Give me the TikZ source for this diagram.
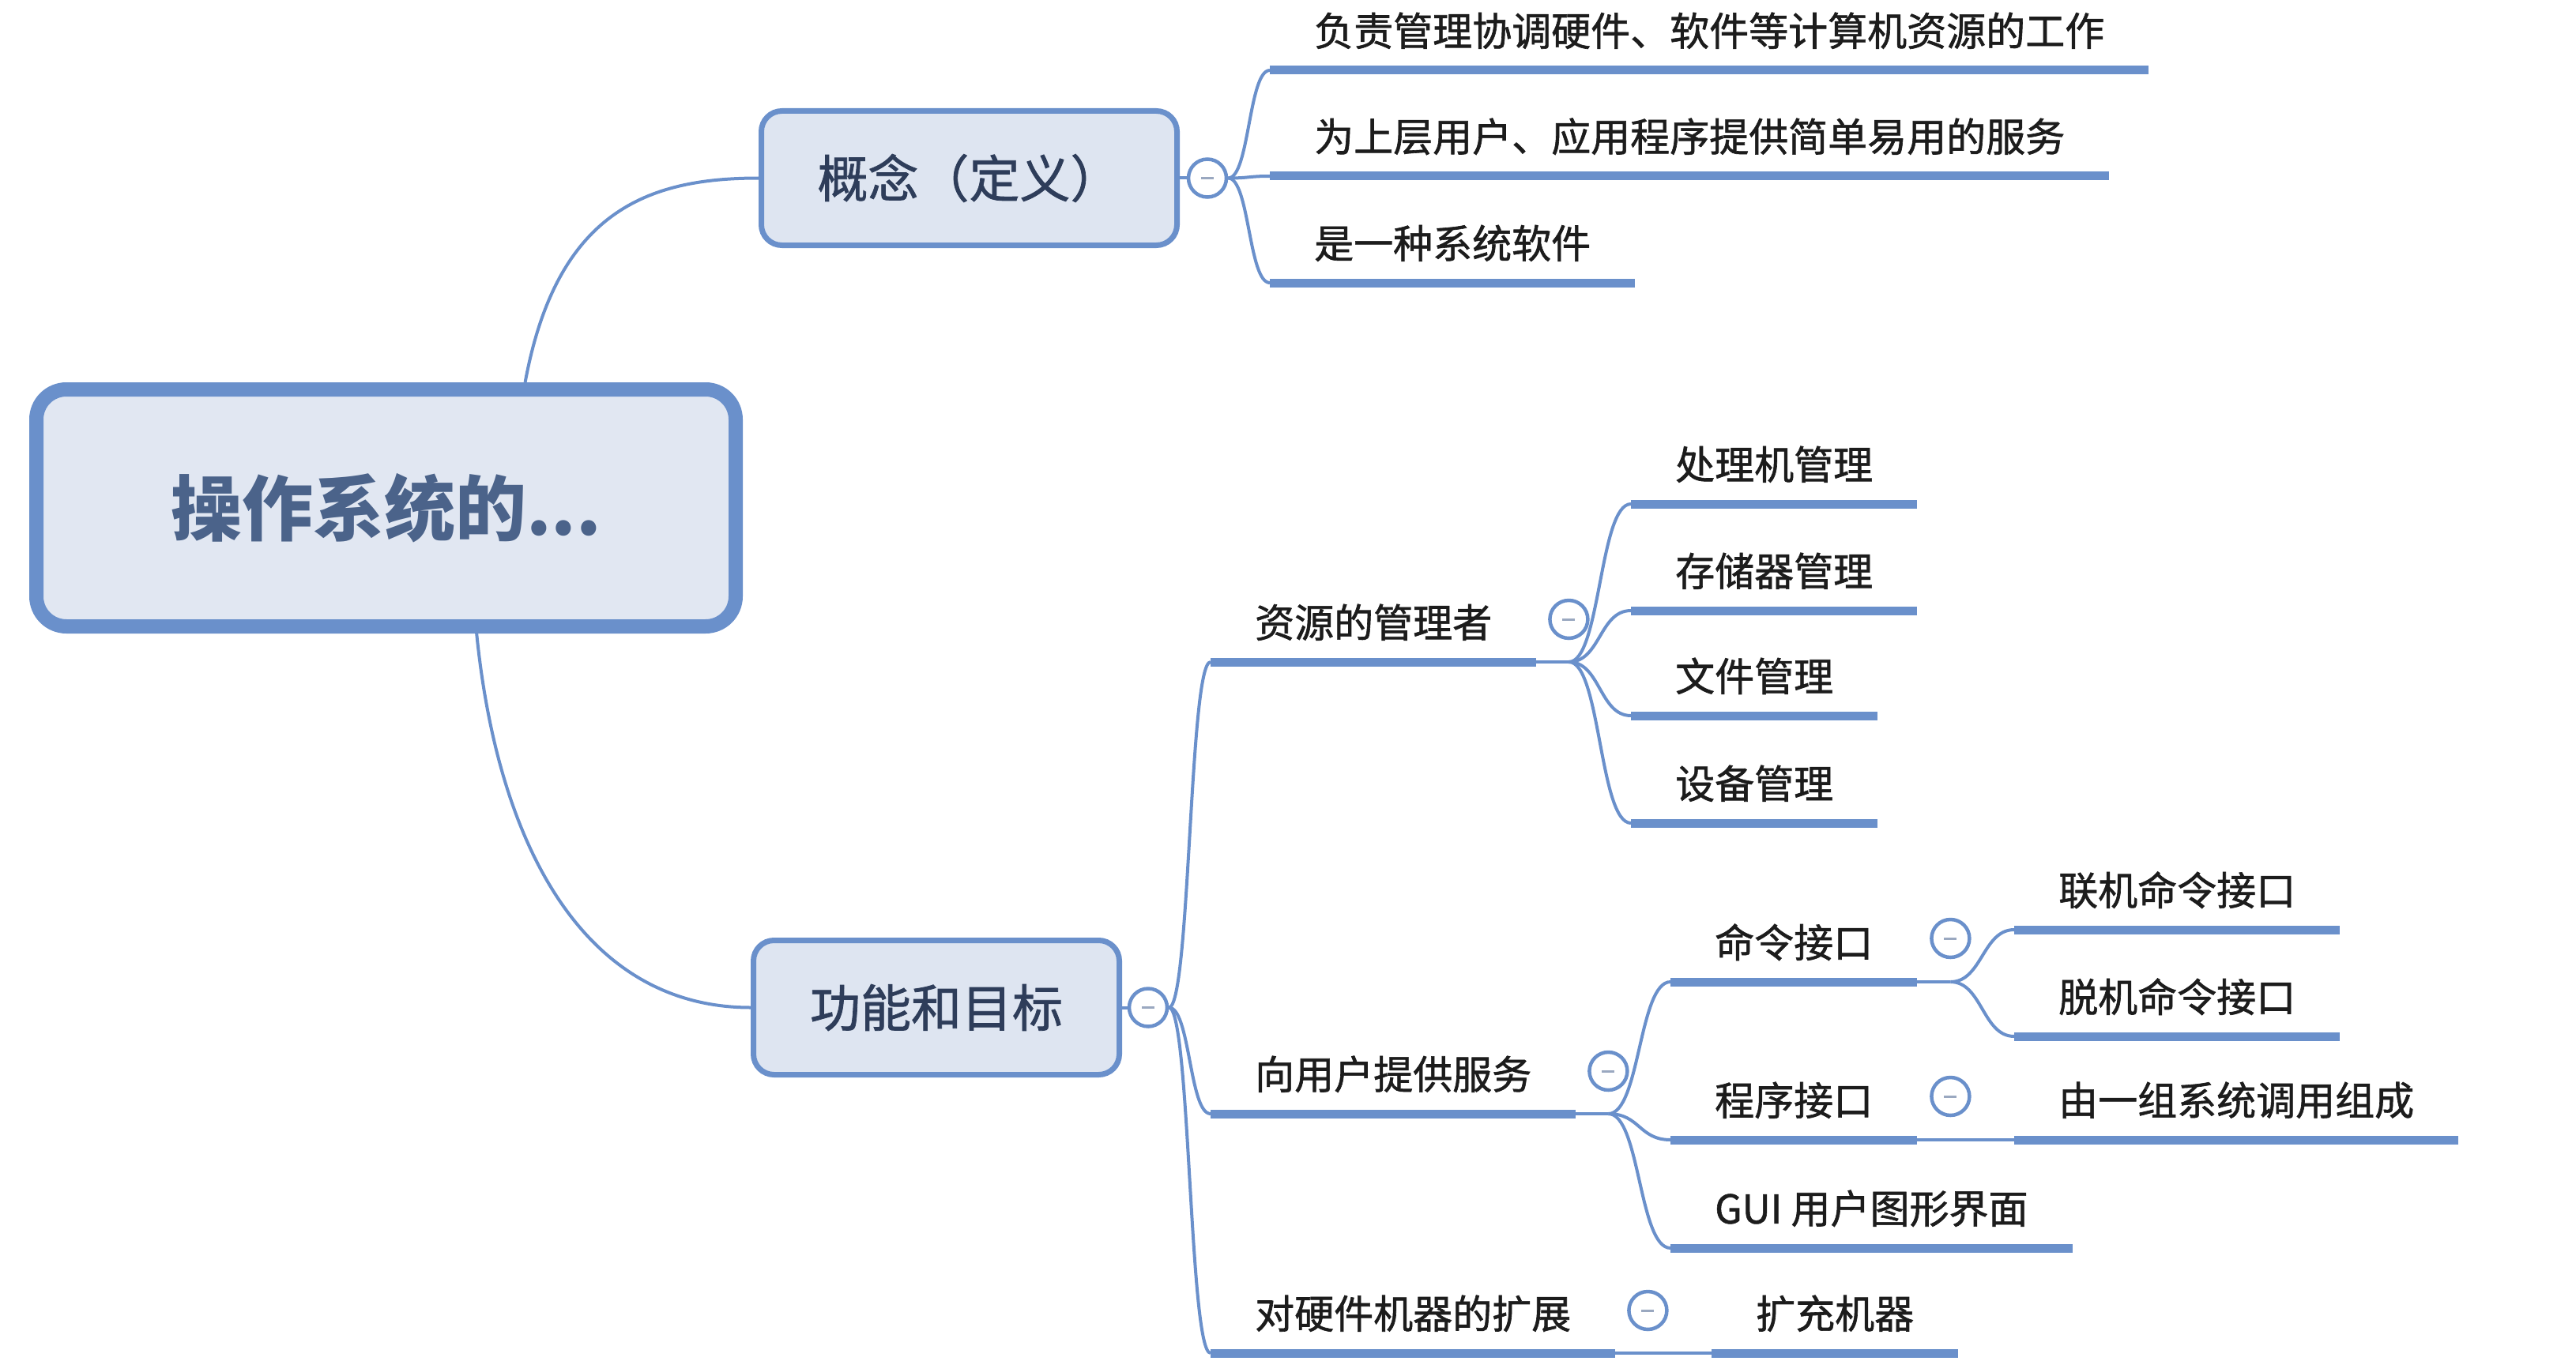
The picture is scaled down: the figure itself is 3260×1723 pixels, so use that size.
\documentclass[tikz,border=0pt]{standalone}
\usepackage{fontspec}
\setmainfont{Noto Sans CJK SC}
\newfontfamily\medfont[FakeBold=1.2]{Noto Sans CJK SC}
\usetikzlibrary{calc}
\definecolor{lineblue}{HTML}{6A90CB}
\definecolor{boxfill}{HTML}{DEE5F1}
\definecolor{rootfill}{HTML}{E1E7F2}
\definecolor{boxtext}{HTML}{2E3D5A}
\definecolor{roottext}{HTML}{4B638A}
\definecolor{childtext}{HTML}{1C1C1C}
\definecolor{minusgray}{HTML}{9AA8C0}
\pgfdeclarelayer{bg}
\pgfsetlayers{bg,main}
\begin{document}
\begin{tikzpicture}[x=1pt,y=-1pt,
  conn/.style={draw=lineblue, line width=4pt},
  uline/.style={draw=lineblue, line width=11pt},
  topic/.style={anchor=south west, inner xsep=56pt, inner ysep=0pt,
    minimum height=100pt, font=\medfont\fontsize{50}{50}\selectfont, text=childtext},
  mainbox/.style={draw=lineblue, line width=7pt, fill=boxfill,
    rounded corners=26pt, minimum height=170pt,
    font=\medfont\fontsize{64}{64}\selectfont, text=boxtext},
  rootbox/.style={draw=lineblue, line width=18pt, fill=rootfill,
    rounded corners=38pt, minimum width=885pt, minimum height=300pt,
    font=\fontsize{90}{90}\selectfont\bfseries, text=roottext},
  collapse/.style={circle, draw=lineblue, line width=4.5pt, fill=white,
    minimum size=48pt, inner sep=0pt,
    path picture={\draw[minusgray, line width=3pt]
      ($(path picture bounding box.center)+(-8,0)$) -- ++(16,0);}},
]
\useasboundingbox (0,0) rectangle (3260,1723);

% main boxes
\node[rootbox] (root) at (488.5,643) {操作系统的...};
\node[mainbox, minimum width=526pt] (concept) at (1226.5,225.5) {概念（定义）};
\node[mainbox, minimum width=463pt] (func) at (1185,1275.5) {功能和目标};

% concept children
\node[topic] (k1) at (1607,89) {负责管理协调硬件、软件等计算机资源的工作};
\node[topic] (k2) at (1607,223) {为上层用户、应用程序提供简单易用的服务};
\node[topic] (k3) at (1607,358) {是一种系统软件};

% function children
\node[topic] (r1) at (1532,838) {资源的管理者};
\node[topic] (r2) at (1532,1410) {向用户提供服务};
\node[topic] (r3) at (1532,1713) {对硬件机器的扩展};

\node[topic] (m1) at (2064,638) {处理机管理};
\node[topic] (m2) at (2064,773) {存储器管理};
\node[topic] (m3) at (2064,906) {文件管理};
\node[topic] (m4) at (2064,1042) {设备管理};

\node[topic] (s1) at (2114,1243) {命令接口};
\node[topic] (s2) at (2114,1443) {程序接口};
\node[topic] (s3) at (2114,1580) {GUI 用户图形界面};

\node[topic] (c1) at (2549,1177) {联机命令接口};
\node[topic] (c2) at (2549,1312) {脱机命令接口};
\node[topic] (p1) at (2549,1443) {由一组系统调用组成};

\node[topic] (x1) at (2166,1713) {扩充机器};

% collapse buttons
\node[collapse] (cc) at (1528,225.5) {};
\node[collapse] (fc) at (1453,1275.5) {};
\node[collapse] (r1c) at ($(r1.south east)+(41,-54)$) {};
\node[collapse] (r2c) at ($(r2.south east)+(41,-54)$) {};
\node[collapse] (r3c) at ($(r3.south east)+(41,-54)$) {};
\node[collapse] (s1c) at ($(s1.south east)+(42,-55)$) {};
\node[collapse] (s2c) at ($(s2.south east)+(42,-55)$) {};

\coordinate (r1b) at (r1c |- r1.south east);
\coordinate (r2b) at (r2c |- r2.south east);
\coordinate (s1b) at (s1c |- s1.south east);

\begin{pgfonlayer}{bg}
  % root to main boxes
  \draw[conn] ($(root.north west)!0.695!(root.north east)$)
     .. controls +(40,-217) and +(-140,0) .. (concept.west);
  \draw[conn] ($(root.south west)!0.627!(root.south east)$)
     .. controls +(27,270) and +(-210,0) .. (func.west);
  % concept
  \draw[conn] (concept.east) -- (cc.east);
  \foreach \t in {k1,k2,k3}
    \draw[conn] (cc.east) .. controls +(27,0) and +(-27,0) .. (\t.south west);
  % function
  \draw[conn] (func.east) -- (fc.east);
  \foreach \t in {r1,r2,r3}
    \draw[conn] (fc.east) .. controls +(27,0) and +(-27,0) .. (\t.south west);
  % resources
  \draw[conn] (r1.south east) -- (r1b);
  \foreach \t in {m1,m2,m3,m4}
    \draw[conn] (r1b) .. controls +(40,0) and +(-40,0) .. (\t.south west);
  % services
  \draw[conn] (r2.south east) -- (r2b);
  \foreach \t in {s1,s2,s3}
    \draw[conn] (r2b) .. controls +(40,0) and +(-40,0) .. (\t.south west);
  \draw[conn] (s1.south east) -- (s1b);
  \foreach \t in {c1,c2}
    \draw[conn] (s1b) .. controls +(40,0) and +(-40,0) .. (\t.south west);
  \draw[conn] (s2.south east) -- (p1.south west);
  \draw[conn] (r3.south east) -- (x1.south west);
  % underlines
  \foreach \t in {k1,k2,k3,r1,r2,r3,m1,m2,m3,m4,s1,s2,s3,c1,c2,p1,x1}
    \draw[uline] (\t.south west) -- (\t.south east);
\end{pgfonlayer}
\end{tikzpicture}
\end{document}
